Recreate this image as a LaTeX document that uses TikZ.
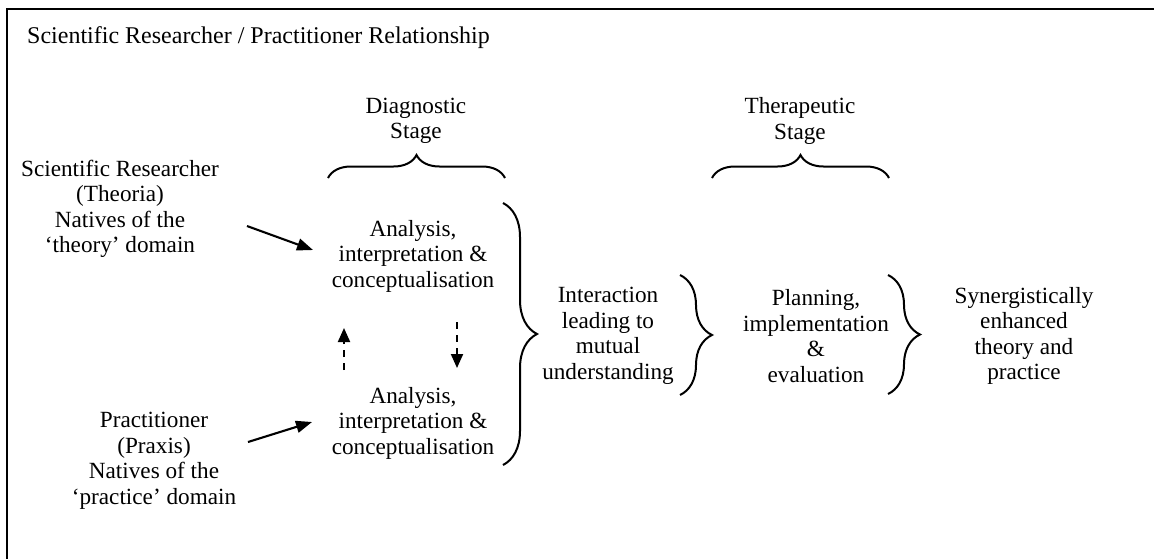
\documentclass[tikz,border=0pt]{standalone}
\usepackage{fontspec}
\setmainfont{Liberation Serif}
\usetikzlibrary{arrows.meta,decorations.pathreplacing}
\begin{document}
\begin{tikzpicture}[x=1pt,y=-1pt,
  txt/.style={align=center,inner sep=0pt,font=\fontsize{23.2}{25.5}\selectfont},
  arr/.style={line width=2.1pt,-{Triangle[length=16pt,width=12pt]}},
  darr/.style={line width=2pt,dash pattern=on 7pt off 6pt,-{Triangle[length=14pt,width=12pt]}},
  brc/.style={line width=2pt,decorate,decoration={brace,amplitude=#1}}]
\useasboundingbox (0,0) rectangle (1154,558);
\draw[line width=2.2pt] (7,560) -- (7,9) -- (1160,9);
\node[txt,anchor=west,font=\fontsize{24}{26}\selectfont] (title) at (27,38) {Scientific Researcher / Practitioner Relationship};
\node[txt] (diag) at (416,121) {Diagnostic\\Stage};
\node[txt] (ther) at (800,121) {Therapeutic\\Stage};
\node[txt] (sr) at (120,209) {Scientific Researcher\\(Theoria)\\Natives of the\\‘theory’ domain};
\node[txt] (pr) at (154,461) {Practitioner\\(Praxis)\\Natives of the\\‘practice’ domain};
\node[txt] (a1) at (413,256) {Analysis,\\interpretation \&\\conceptualisation};
\node[txt] (a2) at (413,423) {Analysis,\\interpretation \&\\conceptualisation};
\node[txt] (inter) at (608,336) {Interaction\\leading to\\mutual\\understanding};
\node[txt] (plan) at (816,336) {Planning,\\implementation\\\&\\evaluation};
\node[txt] (syn) at (1024,336) {Synergistically\\enhanced\\theory and\\practice};
% arrows
\coordinate (s1) at (247,226); \coordinate (e1) at (313,250);
\coordinate (s2) at (248,442); \coordinate (e2) at (312,422);
\draw[arr] (s1) -- (e1);
\draw[arr] (s2) -- (e2);
\coordinate (u1) at (344,370); \coordinate (u2) at (344,328);
\coordinate (d1) at (457,322); \coordinate (d2) at (457,368);
\draw[darr] (u1) -- (u2);
\draw[darr] (d1) -- (d2);
% braces
\draw[brc=23pt] (328,178) -- (505,178);
\draw[brc=23pt] (712,178) -- (889,178);
\draw[brc=34pt] (503,203) -- (503,465);
\draw[brc=32pt] (680,275) -- (680,395);
\draw[brc=32pt] (888,275) -- (888,394);
\end{tikzpicture}
\end{document}
